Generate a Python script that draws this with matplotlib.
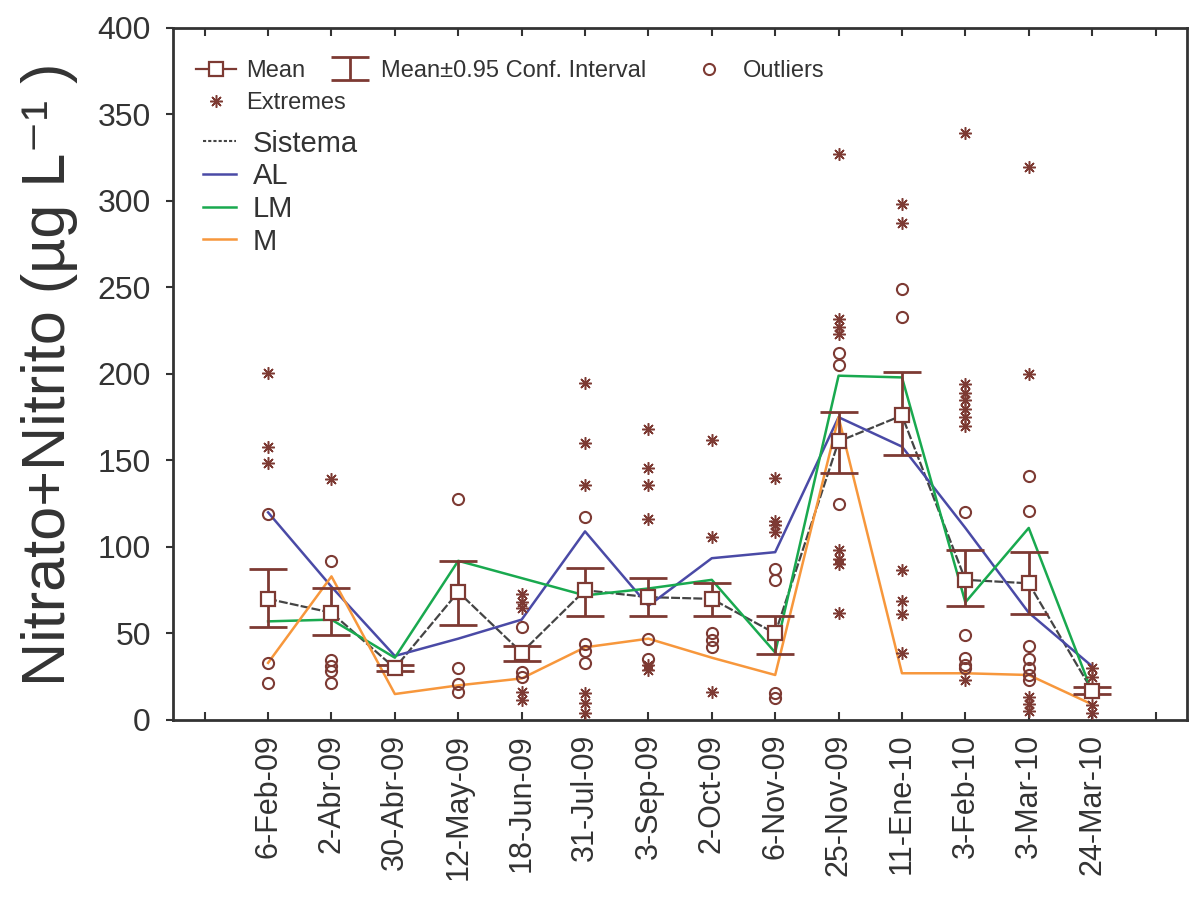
import matplotlib
matplotlib.use('Agg')
import matplotlib.pyplot as plt
from matplotlib.lines import Line2D

plt.rcParams['font.family'] = ['Liberation Sans', 'DejaVu Sans']

dates = ['6-Feb-09', '2-Abr-09', '30-Abr-09', '12-May-09', '18-Jun-09',
         '31-Jul-09', '3-Sep-09', '2-Oct-09', '6-Nov-09', '25-Nov-09',
         '11-Ene-10', '3-Feb-10', '3-Mar-10', '24-Mar-10']

mean = [70, 62, 30, 74, 39, 75, 71, 70, 50, 161, 176, 81, 79, 17]
ci_lo = [54, 49, 28.5, 55, 34, 60, 60, 60, 38, 143, 153, 66, 61, 15]
ci_hi = [87, 76, 31.5, 92, 43, 88, 82, 79, 60, 178, 201, 98, 97, 19]

sistema = [70, 62, 30, 74, 39, 75, 71, 70, 50, 161, 176, 81, 79, 17]
al = [120, 77, 37, 47, 58, 109, 66, 93.5, 97, 175, 158, 111, 62, 31]
lm = [57, 58, 36, 92, 82, 72, 76, 81, 39, 199, 198, 68, 111, 16]
m = [33, 83, 15, 20, 24, 42, 47, 36, 26, 175, 27, 27, 26, 9]

outliers = [[119, 33, 21.5], [92, 34.5, 31, 28.5, 21.5], [],
            [127.5, 30, 21, 16], [54, 28, 25], [117.5, 44, 40, 33],
            [47, 35], [50, 46, 42], [87.5, 81, 15.5, 12.7],
            [212, 205, 125], [249, 233], [120, 49, 36, 32, 30],
            [141, 121, 43, 35.5, 30, 26, 23], []]
extremes = [[200.5, 158, 148.5], [139.5], [], [],
            [73, 68, 64.5, 16, 11.5], [195, 160, 135.6, 15.5, 10, 4],
            [168, 145.5, 135.6, 116, 32, 29], [161.6, 105.8, 16],
            [140, 115, 112.6, 108.7],
            [327, 232, 227, 223, 98, 93, 90, 62],
            [298, 287, 86.6, 69, 61, 39],
            [339, 194, 189, 185, 180, 175, 170, 23],
            [319.5, 200, 13, 9, 5], [30, 25, 8.6, 4]]

brown = '#7d3a33'
c_sis = '#444444'
c_al = '#4a4aa6'
c_lm = '#19a94f'
c_m = '#f7973c'
txt = '#333333'

x = list(range(1, len(dates) + 1))

fig = plt.figure(figsize=(11.89, 9.07), dpi=100)
ax = fig.add_axes([0.1455, 0.2062, 0.853, 0.7630])

ax.plot(x, sistema, color=c_sis, linestyle=(0, (4, 1)), linewidth=1.6, zorder=3)
ax.plot(x, al, color=c_al, linewidth=1.8, zorder=3)
ax.plot(x, lm, color=c_lm, linewidth=1.8, zorder=3)
ax.plot(x, m, color=c_m, linewidth=1.8, zorder=3)

yerr = [[mv - lo for mv, lo in zip(mean, ci_lo)],
        [hi - mv for mv, hi in zip(mean, ci_hi)]]
ci = ax.errorbar(x, mean, yerr=yerr, fmt='none', ecolor=brown,
                 elinewidth=2, capsize=13.5, capthick=2, zorder=4)
ax.plot(x, mean, linestyle='none', marker='s', markersize=10,
        markerfacecolor='white', markeredgecolor=brown, markeredgewidth=1.6,
        zorder=5)

for xi, vals in zip(x, outliers):
    ax.plot([xi] * len(vals), vals, linestyle='none', marker='o',
            markersize=8, markerfacecolor='none', markeredgecolor=brown,
            markeredgewidth=1.5, zorder=5)
for xi, vals in zip(x, extremes):
    ax.plot([xi] * len(vals), vals, linestyle='none', marker=(8, 2, 0),
            markersize=9, color=brown, markeredgewidth=1.1, zorder=5)

ax.set_xlim(-0.5, 15.5)
ax.set_ylim(0, 400)
ax.set_xticks(range(16))
ax.set_xticklabels([''] + dates + [''], rotation=90, fontsize=22)
ax.set_yticks(range(0, 401, 50))
ax.tick_params(axis='y', direction='out', length=5, width=1.5, labelsize=23,
               pad=11, colors=txt)
ax.tick_params(axis='x', direction='in', length=6, width=1.5, top=True,
               pad=10, colors=txt)
for s in ax.spines.values():
    s.set_linewidth(2)
    s.set_color(txt)

ax.set_ylabel('Nitrato+Nitrito (\u00b5g L\u207b\u00b9 )', fontsize=44, color=txt)
ax.yaxis.set_label_coords(-0.094, 0.5)

mean_h = Line2D([], [], color=brown, linewidth=1.6, marker='s', markersize=10,
                markerfacecolor='white', markeredgecolor=brown,
                markeredgewidth=1.6)
ext_h = Line2D([], [], linestyle='none', marker=(8, 2, 0), markersize=9,
               color=brown, markeredgewidth=1.1)
out_h = Line2D([], [], linestyle='none', marker='o', markersize=8,
               markerfacecolor='none', markeredgecolor=brown,
               markeredgewidth=1.5)

# top legend rows: Mean / Extremes, then CI and Outliers placed separately
leg_kw = dict(fontsize=17, frameon=False, loc='upper left', borderaxespad=0,
              labelcolor=txt)
leg1 = ax.legend([mean_h, ext_h], ['Mean', 'Extremes'],
                 bbox_to_anchor=(0.013, 0.9675), handlelength=1.7,
                 handletextpad=0.45, labelspacing=0.42, **leg_kw)
ax.add_artist(leg1)
leg_ci = ax.legend([ci], ['Mean\u00b10.95 Conf. Interval'],
                   bbox_to_anchor=(0.1455, 0.9675), handlelength=1.7,
                   handletextpad=0.45, **leg_kw)
ax.add_artist(leg_ci)
leg2 = ax.legend([out_h], ['Outliers'], bbox_to_anchor=(0.499, 0.9675),
                 handlelength=1.7, handletextpad=0.6, **leg_kw)
ax.add_artist(leg2)

line_h = [Line2D([], [], color=c_sis, linestyle=(0, (1.5, 1)), linewidth=1.5),
          Line2D([], [], color=c_al, linewidth=1.8),
          Line2D([], [], color=c_lm, linewidth=1.8),
          Line2D([], [], color=c_m, linewidth=1.8)]
ax.legend(line_h, ['Sistema', 'AL', 'LM', 'M'], fontsize=21, frameon=False,
          loc='upper left', bbox_to_anchor=(0.018, 0.87), handlelength=1.15,
          handletextpad=0.55, labelspacing=0.16, borderaxespad=0,
          labelcolor=txt)

fig.savefig('out.png', dpi=100)
